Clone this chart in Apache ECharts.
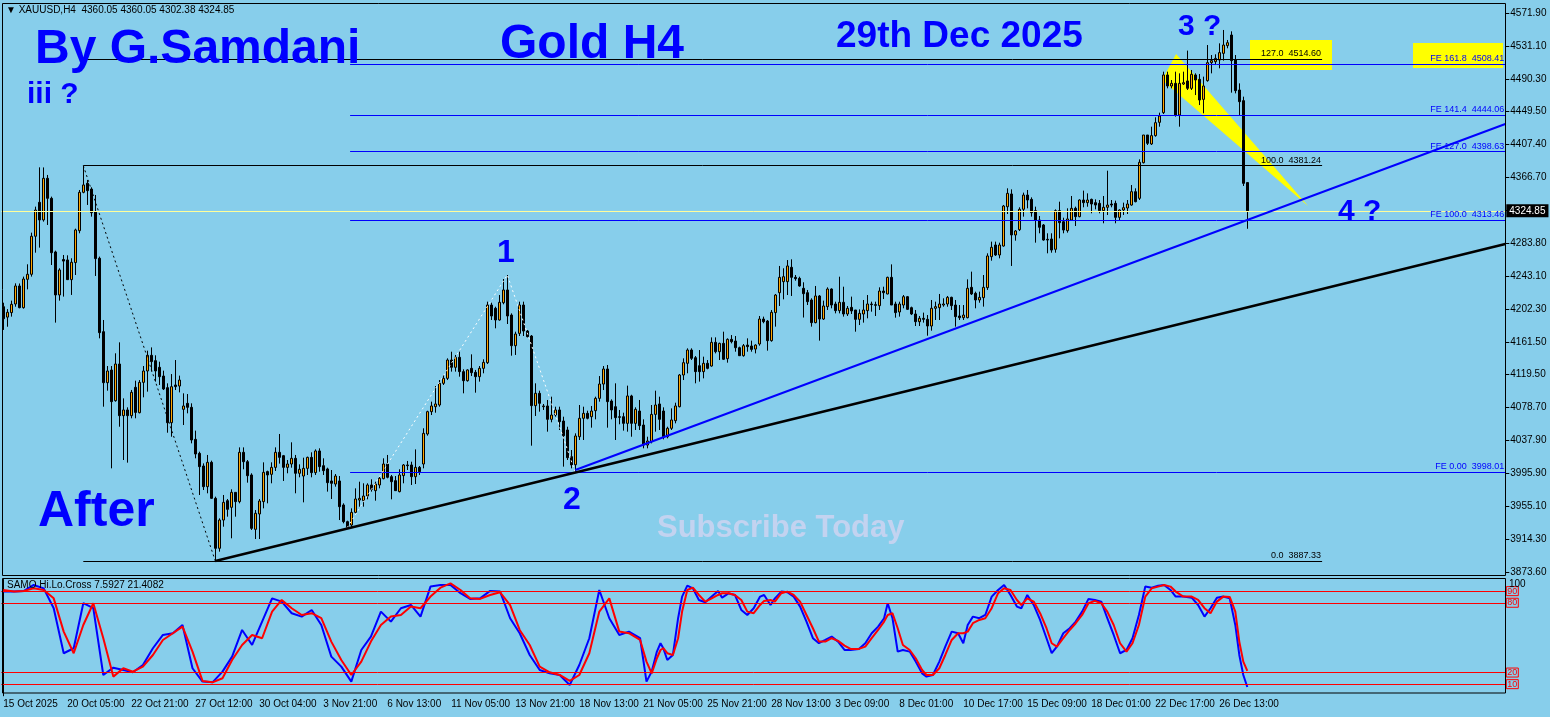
<!DOCTYPE html>
<html><head><meta charset="utf-8">
<script src="https://cdn.jsdelivr.net/npm/echarts@6/dist/echarts.min.js"></script>
<style>html,body{margin:0;padding:0;background:#87CEEB;overflow:hidden}#c{width:1550px;height:717px}</style>
</head><body><div id="c"></div>
<script>
// ---------- data ----------
const xTickLabels = ['15 Oct 2025','20 Oct 05:00','22 Oct 21:00','27 Oct 12:00','30 Oct 04:00','3 Nov 21:00','6 Nov 13:00','11 Nov 05:00','13 Nov 21:00','18 Nov 13:00','21 Nov 05:00','25 Nov 21:00','28 Nov 13:00','3 Dec 09:00','8 Dec 01:00','10 Dec 17:00','15 Dec 09:00','18 Dec 01:00','22 Dec 17:00','26 Dec 13:00'];
const yTickLabels = ['3873.60','3914.30','3955.10','3995.90','4037.90','4078.70','4119.50','4161.50','4202.30','4243.10','4283.80','4325.90','4366.70','4407.40','4449.50','4490.30','4531.10','4571.90'];

const opens = [4205,4192,4197.6,4208.4,4230.9,4203.8,4239.2,4245.5,4293,4335.4,
4313.4,4365.4,4340.4,4273.4,4219.7,4264,4263.4,4238.8,4260.1,4300,
4347.9,4359.2,4352,4323.3,4265.5,4173.8,4110.1,4125.9,4087.6,4133.4,
4068.9,4076,4068.9,4104.3,4072.6,4110.5,4124.7,4144.3,4137.6,4129.3,
4118.4,4103.9,4060.1,4107.2,4105.9,4076.8,4084.3,4079.3,4039.3,4021.8,
4006,3980.2,4010.6,3965.6,3903.2,3938.5,3962.7,3954.4,3973.1,3961.5,
4023.1,4011.4,3994.8,3926.9,3946.1,3961.5,3999,3995.6,4004.3,4023.1,
4018.9,4004.3,4008.5,4015.6,3996.9,3993.5,4003.1,4016.8,3997.7,4024.8,
4006.4,4002.3,3987.3,3983.5,3987.3,3957.3,3936.5,3932.3,3948.1,3963.5,
3962.7,3968.5,3982.3,3975.2,3982.3,3990.2,4008.5,3992.7,3987.7,3974,
3994,4007.3,4007.3,3992.7,4004.3,4008.5,4046,4073.9,4080.1,4082.2,
4109.3,4115.5,4138.4,4129.3,4141.8,4123.9,4112.6,4128,4123,4117.6,
4128,4135.1,4207.1,4203,4188.4,4210,4225.9,4194.6,4156.3,4171.7,
4207.1,4174.6,4168.4,4081.4,4096.8,4080.1,4081,4064.3,4069.7,4076,
4062.2,4051,4017.7,4007.6,4042.6,4065.6,4071.8,4067.6,4075.1,4090.5,
4108.4,4127.2,4087.2,4080.1,4067.6,4067.6,4059.3,4093.5,4059.3,4074.7,
4057.2,4032.2,4036.4,4070.5,4083.5,4074.7,4042.6,4053.1,4062.6,4080.1,
4119.7,4134.3,4150.9,4141.3,4131.3,4123.9,4134.3,4130.9,4160.5,4148.8,
4159.2,4140.1,4164.2,4162.1,4153.8,4143.8,4157.1,4155.9,4152.1,4158.4,
4189.6,4187.1,4162.6,4197.6,4222.5,4236.3,4236.3,4254.2,4241.7,4240.4,
4228,4222.5,4213.4,4185.1,4218.4,4189.6,4205.1,4227.1,4208.4,4200.1,
4210.5,4195.9,4204.2,4200.9,4189.2,4195.9,4200.1,4208.4,4207.6,4206.3,
4224.6,4220.9,4241.7,4208.4,4198.4,4207.1,4217.5,4203.8,4195.9,4186.3,
4190.5,4189.2,4180.9,4203,4203.8,4207.1,4208.4,4216.7,4207.1,4193.4,
4191.3,4191.3,4229.2,4221.7,4213.4,4216.3,4228.8,4267.5,4282.1,4269.6,
4280.8,4329.9,4345.8,4294.6,4301.2,4326.7,4344.5,4339.1,4325,4313.3,
4307.1,4289.2,4289.6,4276.7,4325,4311.2,4300,4313.3,4327.9,4317.5,
4338.3,4335,4339.1,4335,4334.1,4325,4329.2,4333.3,4334.1,4316.6,
4325.8,4328.3,4332,4348.7,4340.4,4384.9,4419.5,4408.3,4418.7,4435.3,
4447.4,4494.5,4480.7,4484,4444.5,4483.2,4487,4477.8,4494.5,4489,
4464,4487.4,4509.9,4511.1,4513.2,4521.5,4531.1,4544.4,4513.2,4475.7,
4462.4,4360.05];
const highs = [4210,4202,4212.6,4234.2,4234,4242.6,4258,4297.5,4330,4379.1,
4379,4369.6,4342.5,4275,4253,4269.6,4269.2,4265.5,4302.5,4350.8,
4381.24,4363.3,4354.2,4344.6,4267.6,4188.4,4130.9,4130.9,4146.8,4160.5,
4090.5,4079.3,4101,4112.6,4113.4,4130.9,4150.1,4154.2,4144.3,4136.3,
4125.1,4109.3,4120.9,4138.4,4118.9,4096.8,4095.9,4084.3,4050.2,4023.9,
4009.3,4019.8,4012.7,3967.7,3940.6,3969.8,3964.8,3976.9,3973.1,4029.3,
4029.3,4013.5,3996.9,3951,3964.8,4010.6,4000.2,4010.6,4029.3,4046,
4019.8,4013.5,4035.6,4019.8,4008.1,4016.4,4017.7,4023.1,4026.8,4028.1,
4015.6,4003.9,4001,3996,3993.5,3959.4,3937.7,3953.1,3978.1,3986.4,
3984.4,3984.4,3989.4,3986.4,3992.7,4015.6,4019.8,3994.8,3993.5,4001.9,
4008.5,4012.3,4011.4,4026.8,4006,4053.1,4075.1,4086.4,4105.9,4113.4,
4119.7,4140.5,4148.8,4144.7,4148.8,4126.8,4126.8,4145.5,4126,4130.9,
4139.3,4211.3,4210,4205,4219.6,4239.6,4244.6,4196.7,4173.8,4211.3,
4211.3,4175.9,4169.6,4109.3,4100.1,4083.5,4088.5,4092.6,4080.1,4080.1,
4067.6,4055.1,4026,4046.8,4082.2,4080.1,4075.1,4081,4092.6,4118.4,
4130.9,4132.2,4089.3,4109.3,4076,4072.6,4106.4,4095,4079.3,4088.5,
4064.3,4042.6,4082.2,4100.1,4092.6,4079.3,4055.1,4078,4085.1,4120.9,
4140.5,4153,4153,4143.4,4150.9,4142.6,4138.4,4166.7,4166.7,4160.1,
4173.8,4165.5,4169.6,4168.4,4155.1,4158.4,4165.5,4162.6,4158,4193.4,
4192.6,4188.4,4200.9,4220.9,4255.9,4253,4263.3,4264.2,4244.6,4242.5,
4235.5,4225.9,4215.5,4230.9,4219.6,4212.6,4229.2,4227.9,4211.3,4242.5,
4230,4205.9,4217.6,4200.9,4201.7,4213.4,4219.6,4211.3,4211.3,4229.2,
4230,4242.5,4257.9,4211.3,4211.3,4219.6,4218.4,4205.1,4200.9,4193.4,
4197.6,4194.6,4213.4,4211.3,4220.9,4215.5,4218.4,4217.5,4213.4,4207.1,
4207.1,4239.2,4248.8,4223.8,4223.8,4244.6,4271.7,4286.3,4286.3,4285,
4332.1,4352.9,4351.6,4300.8,4329.2,4347.5,4350.8,4341.6,4330,4318.3,
4308.3,4296.7,4296.7,4326.6,4336.2,4316.2,4327.9,4343.3,4330,4339.1,
4350,4346.6,4340,4339.1,4338.3,4343.3,4374.9,4338.3,4337.5,4326.6,
4335,4338.3,4357,4352.9,4389.1,4419.5,4419.5,4429.9,4441.6,4447.4,
4498.6,4498.6,4488.2,4498.6,4496.5,4498.6,4524.9,4500.7,4496.5,4495.7,
4492.4,4531.9,4519.4,4520.3,4534,4550.7,4538.2,4549,4519.4,4484,
4467.4,4360.05];
const lows = [4176,4180,4192.6,4205,4203,4202.6,4226.7,4242.6,4272.5,4278.8,
4311.3,4307.1,4257.1,4185.1,4212.6,4217.6,4238.4,4219.7,4244.6,4296.7,
4346.7,4332.1,4317.5,4243.4,4165.5,4080.1,4100.1,4003.1,4086.4,4055.1,
4013.5,4010.2,4065.6,4065.6,4071.8,4091.8,4098.9,4123.9,4111.4,4107.2,
4100.9,4047.6,4042.6,4100.9,4098,4057.2,4071.8,4034.3,4015.6,3969.8,
3976,3971.9,3965,3887.33,3899,3930.2,3942.7,3915.7,3942.7,3959.4,
4001.9,3985.2,3926.1,3914.8,3914.8,3953.1,3959.4,3984.4,3999.8,4009,
3987.3,3996.9,4003.9,3971.9,3991.9,3960.6,3994.8,3991.9,3994.8,3998.9,
3994.8,3974,3964.8,3980.2,3938.5,3934.4,3929.15,3929.4,3946.9,3955.2,
3955.2,3964.4,3974,3962.7,3978.1,3989.4,3990.6,3964.4,3974.8,3973.1,
3984.4,4001,3982.3,3983.5,3994.8,4003.1,4043.9,4069.7,4072.6,4080.1,
4107.2,4113.4,4123.9,4123.9,4117.6,4096.8,4111.4,4118.4,4097.6,4111.4,
4121.8,4133.4,4188.4,4178,4187.6,4208,4183.4,4143.8,4144.7,4168.4,
4168.4,4166.7,4031.4,4068.5,4073.9,4076,4048.9,4060.6,4067.6,4051,
4005.2,4013.5,4003.1,3998.01,4038.5,4038.5,4064.3,4053.9,4064.3,4086.4,
4100.9,4053.9,4064.3,4038.5,4058.1,4050.2,4048.9,4042.6,4051,4051,
4028.1,4028.1,4034.3,4048.9,4051,4039.3,4040.6,4051,4059.3,4079.3,
4113.4,4121.8,4138.4,4109.3,4111.4,4115.5,4126.8,4130.1,4146.7,4138.4,
4138.4,4135.1,4159.2,4148.8,4143.4,4142.6,4148.8,4148.8,4146.7,4156.3,
4184.3,4150.1,4161.3,4180.1,4205.9,4214.2,4219.6,4218.4,4237.5,4230,
4191.5,4207.1,4180.1,4184.3,4162.6,4188.4,4200.9,4203,4196.7,4196.7,
4192.6,4193.4,4195.9,4173.8,4182.1,4185.1,4190.5,4198.8,4193.4,4200.9,
4214.6,4220.5,4207.1,4191.3,4192.6,4203,4200.9,4194.6,4180.9,4180.9,
4185.1,4168.8,4175.1,4188.4,4188.4,4205,4205,4200.9,4180.1,4188.4,
4188.4,4190.5,4219.6,4203,4210,4205.1,4225.9,4262.5,4268.4,4265.4,
4280,4320.8,4255.9,4287.5,4299.6,4317.5,4327.9,4317.5,4285,4296.7,
4287.5,4271.7,4272.5,4272.5,4290.4,4296.7,4297.5,4313.3,4305.8,4316.7,
4329.2,4329.9,4321.7,4326.6,4321.7,4309.2,4319.6,4329.2,4309.2,4313.3,
4319.6,4320.8,4331.2,4335.4,4338.3,4384,4407,4407,4417.4,4429.9,
4445.7,4477.8,4477.8,4442.4,4429.9,4482,4475.7,4475.7,4469.4,4456.9,
4446.6,4486.1,4496.5,4506.9,4502.8,4512.4,4527.8,4472.4,4471.5,4444.5,
4355.8,4302.38];
const closes = [4190,4198,4208,4230.9,4203.8,4239.6,4245.5,4293,4325.8,4313.4,
4365.4,4340.4,4272.5,4219.7,4250.9,4262,4238.8,4260.5,4300.9,4347.9,
4357.1,4350,4322.5,4265.1,4172.6,4110.1,4124.7,4086.4,4133.4,4068.9,
4076,4068.9,4098,4073,4110.5,4124.7,4144.3,4136.4,4124.7,4117.6,
4102.2,4060.1,4105.1,4105.1,4113.4,4081,4079.3,4038.5,4021,4005.2,
3980.2,4010.6,3965.6,3903.2,3938.5,3960.6,3951.9,3973.1,3961.5,4023.1,
4011.4,3993.9,3928.1,3946.9,3962.3,3998.1,3994.8,4004.3,4023.1,4016.8,
4004.3,4008.5,4015.6,3996.9,4001.9,4003.1,4016.8,3997.7,4024.8,4005.2,
4000.2,3985.2,3984.4,3993.5,3955.2,3936.5,3929.4,3948.1,3964.8,3965.6,
3968.5,3982.3,3976.9,3983.5,3990.6,4008.5,3991.9,3986.4,3975.2,3994.8,
4007.3,4006.4,3992.7,4004.3,3998.9,4046.8,4073.9,4081,4083.5,4109.3,
4115.5,4138.4,4129.3,4141.8,4123.9,4112.6,4126,4122.6,4117.6,4128,
4135.5,4207.1,4193.4,4188.4,4210.5,4225.9,4193.4,4156.3,4170.9,4207.1,
4174.6,4167.6,4081.4,4096.8,4084.3,4081,4064.3,4069.7,4076,4061.4,
4043.9,4016.4,4007.3,4043.5,4065.6,4071.8,4065.6,4074.7,4090.5,4108.4,
4127.2,4086.4,4076,4066.4,4066.8,4059.3,4093.5,4059.3,4076.8,4056.4,
4032.2,4037.2,4070.5,4082.2,4064.3,4042.6,4053.1,4063.5,4081,4119.7,
4135.1,4150.9,4140.5,4123.9,4123.9,4134.3,4128,4160.5,4148.8,4159.2,
4139.3,4164.2,4161.3,4153.8,4143.8,4156.3,4155.1,4151.7,4157.1,4189.6,
4186.3,4162.6,4198,4219.6,4241.7,4242.5,4255.9,4241.7,4240,4230.9,
4221.3,4211.3,4185.1,4218.4,4189.6,4205.9,4227.1,4207.1,4200.1,4210.5,
4195.9,4203,4199.7,4189.2,4196.7,4200.9,4208.4,4207.6,4206.7,4224.6,
4222.5,4241.7,4207.1,4197.6,4208.4,4217.5,4201.7,4195.9,4186.3,4190.5,
4189.2,4180.9,4203,4205.1,4208.4,4208.4,4216.7,4206.3,4192.6,4191.3,
4194.6,4228,4220.9,4213.4,4216.7,4229.2,4268.4,4279.2,4269.6,4282.1,
4330.8,4346.6,4294.6,4299.6,4326.7,4344.5,4338.3,4322.5,4313.3,4304.2,
4288.3,4288.3,4275.8,4325,4310,4300.8,4314.6,4327.9,4317.5,4338.3,
4335,4338.3,4333.3,4332,4325,4329.2,4332,4332,4316.6,4325.8,
4328.7,4333.3,4348.7,4336.2,4385.4,4419.5,4409.1,4418.7,4434.9,4443.2,
4494.5,4480.7,4484,4444.5,4484,4484.9,4477.8,4495.3,4488.2,4463.2,
4480.7,4509.9,4512.4,4515.2,4522.4,4531.9,4534.8,4512.4,4474.9,4461.1,
4359.1,4324.85];

// oscillator (SAMO Hi.Lo.Cross) read at bar positions
const oscBars = [0,2.7,5.2,7.6,10.1,12.6,15.1,17.6,20,22.5,25,27.5,30,32.4,34.9,37.4,39.9,42.4,44.8,47.3,49.8,52.3,54.8,57.2,59.7,62.2,64.7,67.2,69.6,72.1,74.6,77.1,79.5,82,84.5,87,89.5,91.9,94.4,96.9,99.4,101.9,104.3,106.8,109.3,111.8,114.3,116.7,119.2,121.7,124.2,126.7,129.1,131.6,134.1,136.6,139.1,141.6,144,146.5,149,151.5,154,156.4,
159.2,160.8,162.1,163.4,164.3,165,166,167.4,168.7,169.7,171,172.4,173.9,175.5,177.1,178.7,179.7,181.3,182.9,184.5,186,187.6,189.2,190.2,191.8,192.9,194.5,196,197.6,199.2,200.8,202.4,203.9,205.5,207.1,208.7,210.3,211.8,213.9,215.5,217.1,218.7,220.2,221.1,222.3,223.6,224.9,226.6,228.1,229.7,230.8,232.4,234,235.5,237.1,238.7,240,241.1,242.4,244,245.5,247.1,248.7,250.2,251.8,253.4,254.5,256,257.6,259.2,260.8,262.1,263.4,265,266.6,268.1,269.7,271.3,272.9,274.5,276,277.6,279.2,280.8,282.3,283.9,285.5,287.1,288.7,290.2,291.8,293.1,295,297.1,298.7,300.3,301.8,303.4,305,306.6,308,309,310,311];
const oscBlue = [89.6,89.6,90.2,95.3,92.4,75.3,36.6,40.9,79.6,75.3,17.9,24.2,22.2,20.2,26.5,40.9,52.3,53.8,60.9,23.7,12.2,11.6,20.8,33.7,56.6,43.7,63.8,83.8,81,71,68.1,73.8,60.9,33.7,25.1,12.2,39.4,50.9,72.4,63.8,75.3,78.1,68.1,93.9,95.3,95.3,88.2,83.3,83.8,90.2,89.6,66.7,53.8,35.1,22.2,19.3,17.9,9.3,26.5,49.5,91,66.7,52.3,55.2,
49.5,12.2,20.8,38,45.2,40.9,30.8,35.1,66.7,85.3,94.7,92.4,82.4,80.4,85.3,90.2,84.4,88.1,86.7,73.8,69.5,75.3,85.3,86.7,78.1,83.8,89.6,89,85.3,76.7,63.8,49.5,45.2,48,50.9,46.6,39.4,39.4,40.3,45.2,53.8,59.5,66.7,79.6,66.7,38,39.4,38,29.4,19.3,16.5,17.9,29.4,42.3,55.2,53.8,45.2,60.9,68.1,66.7,69.5,85.3,91,95.3,86.7,76.7,75.3,86.7,78.1,65.2,49.5,36.6,42.3,53.8,58.1,63.8,72.4,83.3,82.4,81,66.7,52.3,36.6,39.4,49.5,69.5,93.9,93,94.7,95.3,91,85.3,85.3,84.4,78.1,68.1,75.3,84.4,85.3,83.8,60.9,35.1,17.9,7.5927];
const oscRed = [91,89.6,90.2,92.4,91,83.8,55.2,36.6,60.9,79.6,49.5,16.5,23.7,20.8,25.1,35.1,48,53.8,59.5,38,12.8,11.6,15.1,30.8,43.7,52.3,49.5,72.4,82.4,75.3,69.5,71,66.7,46.6,30.8,17.9,29.4,46.6,60.9,68.1,69.5,76.7,75.3,85.3,93,96.7,91,83.8,83.3,86.7,89,78,56.6,43.7,25.1,20.2,17.9,12.8,17.9,36.6,72.4,83.8,55.2,53.8,
48,29.4,19.3,32.3,39.4,40.9,36.6,35.1,49.5,72.4,91,93,86.7,81,83.8,86.7,88.2,88.2,86.7,82.4,72.4,71,78.1,81.6,82.4,81,88.2,89.6,86.7,81,69.5,58.1,46.6,46.6,49.5,47.2,43.1,40.3,40.3,42.3,49.5,56.6,63.8,69.5,71,58.1,43.7,39.4,32.3,22.2,17.9,17.9,23.7,35.1,48,53.8,53.8,55.2,62.4,65.2,66.7,75.3,88.2,92.4,91,82.4,78.1,83.8,81,71,58.1,45.2,42.3,49.5,56.6,62.4,69.5,79.6,81.6,79.6,72.4,60.9,45.2,38,45.2,60.9,85.3,92.4,93.9,95.3,93.9,89.6,85.3,85.3,82.4,75.3,71,81,85.3,85,72.4,46.6,29.4,21.4082];
const oscLevels = [90, 80, 20, 10];

// Fibonacci retracement (swing 20 Oct high -> 27 Oct low) and expansion (A-B-C)
const retrPct = ['0.0', '100.0', '127.0'];
const retrPrice = [3887.33, 4381.24, 4514.60];
const retrSwing = [[20, 4381.24], [53, 3887.33]];
const fePct = ['0.00', '100.0', '127.0', '141.4', '161.8'];
const fePrice = [3998.01, 4313.46, 4398.63, 4444.06, 4508.41];
const feSwing = [[86, 3929.15], [126, 4244.6], [143, 3998.01]];
// trend lines (anchor bar, price)
const blueTrend = [[143, 4001], [375.5, 4433.2]];
const blackTrend = [[53, 3887.33], [375.5, 4283.4]];
// yellow wedge vertices (bar, price)
const wedgeBars = [293.2, 289.7, 326.2];
const wedgePrices = [4520.7, 4488.2, 4330.8];

// ---------- chart ----------
const N = 376;
const cats = Array.from({length: N}, (_, i) => String(i));
const last = closes.length - 1;
const FONT = 'Liberation Sans';
const yMin = 3873.6, yMax = 4571.9;
const small = {fontFamily: FONT, fontSize: 10, color: '#000'};
const isTick = idx => idx % 16 === 0 && idx / 16 < xTickLabels.length;

const chart = echarts.init(document.getElementById('c'), null, {renderer: 'canvas'});
const candleData = closes.map((c, i) => [opens[i], c, lows[i], highs[i]]);

function levelLines(prices, pcts, prefix, x0, x1, color, fs) {
  return prices.map((p, i) => [
    {coord: [x0, p], lineStyle: {color: color, width: 1, type: 'solid'},
     label: {show: true, position: 'insideEndTop', distance: 1, color: color, fontFamily: FONT, fontSize: fs,
             formatter: prefix + pcts[i] + '  ' + p.toFixed(2)}},
    {coord: [x1, p]}
  ]);
}

const bigText = (text, x, y, size, fill) => ({
  type: 'text', z: 50, silent: true, x: x, y: y,
  style: {text: text, fill: fill || '#0000ff', font: 'bold ' + size + 'px "Liberation Sans"', textVerticalAlign: 'middle'}
});

const option = {
  animation: false,
  backgroundColor: '#87CEEB',
  grid: [
    {left: 1.3, right: 44.7, top: 13, height: 559},
    {left: 1.3, right: 44.7, top: 579.5, height: 116.3}
  ],
  xAxis: [
    {type: 'category', gridIndex: 0, data: cats, show: false},
    {type: 'value', gridIndex: 0, min: -0.5, max: N - 0.5, show: false},
    {type: 'category', gridIndex: 1, data: cats, position: 'bottom',
     axisLine: {show: false}, axisTick: {show: false}, splitLine: {show: false},
     axisLabel: Object.assign({interval: (i) => isTick(i), align: 'left', margin: 3,
       formatter: (v, i) => xTickLabels[i / 16] || ''}, small)},
    {type: 'value', gridIndex: 1, min: -0.5, max: N - 0.5, show: false}
  ],
  yAxis: [
    {type: 'value', gridIndex: 0, min: yMin, max: yMax, show: false},
    {type: 'value', gridIndex: 0, min: 0, max: yTickLabels.length - 1, interval: 1, position: 'right',
     axisLine: {show: true, lineStyle: {color: '#000', width: 1}},
     axisTick: {show: true, length: 4, lineStyle: {color: '#000'}},
     splitLine: {show: false},
     axisLabel: Object.assign({margin: 5, formatter: v => yTickLabels[Math.round(v)]}, small)},
    {type: 'value', gridIndex: 1, min: 0, max: 100, position: 'right',
     axisLine: {show: true, lineStyle: {color: '#000'}}, axisTick: {show: false},
     axisLabel: {show: false}, splitLine: {show: false}}
  ],
  series: [
    // yellow wedge
    {type: 'custom', xAxisIndex: 1, yAxisIndex: 0, z: 1, silent: true, data: [[300, 4400]],
     renderItem: (params, api) => ({
       type: 'polygon',
       shape: {points: wedgeBars.map((b, i) => api.coord([b, wedgePrices[i]]))},
       style: {fill: '#ffff00'}
     })},
    // fibo level lines
    {type: 'line', xAxisIndex: 1, yAxisIndex: 0, data: [], silent: true, z: 3,
     markLine: {symbol: ['none', 'none'], silent: true, animation: false,
       data: levelLines(retrPrice, retrPct, '', retrSwing[0][0], 329.7, '#000', 9)
         .concat(levelLines(fePrice, fePct, 'FE ', 86.7, N - 0.5, '#0000ff', 9))}},
    // candles
    {type: 'candlestick', xAxisIndex: 0, yAxisIndex: 0, data: candleData, barWidth: 3, z: 4,
     itemStyle: {color: '#FFA500', color0: '#000000', borderColor: '#000000', borderColor0: '#000000', borderWidth: 1},
     markLine: {symbol: ['none', 'none'], silent: true, animation: false,
       data: [{yAxis: closes[last]}],
       lineStyle: {color: '#ffff99', width: 1, type: 'solid'},
       label: {show: true, position: 'end', distance: 1, formatter: closes[last].toFixed(2),
         backgroundColor: '#000', color: '#fff', fontFamily: FONT, fontSize: 10, padding: [2, 3, 1, 3]}}},
    // dotted swing lines
    {type: 'line', xAxisIndex: 1, yAxisIndex: 0, data: retrSwing, symbol: 'none', silent: true, z: 5,
     lineStyle: {color: '#000', width: 1, type: [2, 3]}},
    {type: 'line', xAxisIndex: 1, yAxisIndex: 0, data: feSwing, symbol: 'none', silent: true, z: 5,
     lineStyle: {color: '#ffffff', width: 1, type: [2, 3]}},
    // trend lines
    {type: 'line', xAxisIndex: 1, yAxisIndex: 0, data: blackTrend, symbol: 'none', silent: true, z: 6,
     lineStyle: {color: '#000', width: 2.5}},
    {type: 'line', xAxisIndex: 1, yAxisIndex: 0, data: blueTrend, symbol: 'none', silent: true, z: 6,
     lineStyle: {color: '#0000ff', width: 2}},
    // oscillator
    {type: 'line', xAxisIndex: 3, yAxisIndex: 2, data: oscBars.map((b, i) => [b, oscBlue[i]]),
     symbol: 'none', silent: true, z: 4, lineStyle: {color: '#0000ff', width: 2},
     markLine: {symbol: ['none', 'none'], silent: true, animation: false,
       data: oscLevels.map(v => ({yAxis: v})),
       lineStyle: {color: '#ff0000', width: 1, type: 'solid'},
       label: {show: true, position: 'end', distance: 1, color: '#ff0000', fontFamily: FONT, fontSize: 9,
         borderColor: '#ff0000', borderWidth: 1, padding: [0, 1], formatter: p => String(p.value)}}},
    {type: 'line', xAxisIndex: 3, yAxisIndex: 2, data: oscBars.map((b, i) => [b, oscRed[i]]),
     symbol: 'none', silent: true, z: 5, lineStyle: {color: '#ff0000', width: 2}}
  ],
  graphic: [
    {type: 'rect', z: 0, silent: true, shape: {x: 1250, y: 40, width: 82, height: 30}, style: {fill: '#ffff00'}},
    {type: 'rect', z: 0, silent: true, shape: {x: 1413, y: 43, width: 90, height: 25}, style: {fill: '#ffff00'}},
    {type: 'rect', z: 60, silent: true, shape: {x: 2.5, y: 3.5, width: 1503, height: 572}, style: {fill: 'none', stroke: '#000', lineWidth: 1}},
    {type: 'rect', z: 60, silent: true, shape: {x: 2.5, y: 578.5, width: 1503, height: 114.5}, style: {fill: 'none', stroke: '#000', lineWidth: 1}},
    {type: 'text', z: 60, silent: true, x: 6, y: 10,
     style: {text: '\u25BC XAUUSD,H4  ' + [opens[last], highs[last], lows[last], closes[last]].map(v => v.toFixed(2)).join(' '),
       fill: '#000', font: '10px "Liberation Sans"', textVerticalAlign: 'middle'}},
    {type: 'text', z: 60, silent: true, x: 7, y: 585,
     style: {text: 'SAMO Hi.Lo.Cross ' + oscBlue[oscBlue.length - 1].toFixed(4) + ' ' + oscRed[oscRed.length - 1].toFixed(4),
       fill: '#000', font: '10px "Liberation Sans"', textVerticalAlign: 'middle'}},
    {type: 'text', z: 60, silent: true, x: 1509, y: 584,
     style: {text: '100', fill: '#000', font: '10px "Liberation Sans"', textVerticalAlign: 'middle'}},
    bigText('By G.Samdani', 35, 50, 48),
    bigText('Gold H4', 500, 45, 48),
    bigText('29th Dec 2025', 836, 37, 37),
    bigText('iii ?', 27, 95, 30),
    bigText('After', 38, 512, 50),
    bigText('1', 497, 253, 32),
    bigText('2', 563, 500, 32),
    bigText('3 ?', 1178, 27, 30),
    bigText('4 ?', 1338, 212, 30),
    bigText('Subscribe Today', 657, 528, 31, '#c3d3f0')
  ]
};
chart.setOption(option);
</script>
</body></html>
